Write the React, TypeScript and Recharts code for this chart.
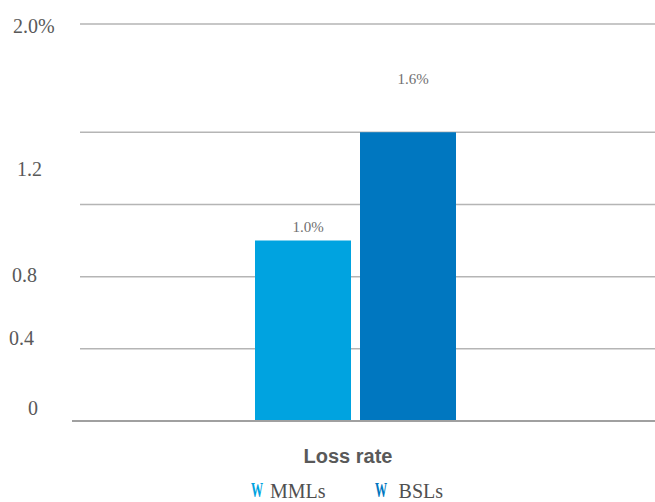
import React from "react";
import { BarChart, Bar, XAxis, YAxis, CartesianGrid, Legend, LabelList } from "recharts";

const categories = ["Loss rate"];
const mmlValues = [1.0];
const bslValues = [1.6];
const seriesNames = ["MMLs", "BSLs"];
const seriesColors = ["#00A3E0", "#0077C0"];
const yTicks = [0, 0.4, 0.8, 1.2, 1.6, 2.2];
const yTickLabels = ["0", "0.4", "0.8", "1.2", "", "2.0%"];

const SERIF = "Liberation Serif, Times New Roman, Times, serif";

// label placement tweaks (style only)
const yTickStyle: Record<string, { x: number; dy: number }> = {
  "0": { x: 28, dy: -6 },
  "0.4": { x: 9, dy: -4 },
  "0.8": { x: 12, dy: 5 },
  "1.2": { x: 17, dy: -28 },
  "": { x: 0, dy: 0 },
  "2.0%": { x: 13, dy: 9 },
};

const data = categories.map((c, i) => ({
  category: c,
  MMLs: mmlValues[i],
  BSLs: bslValues[i],
}));

const YTick = (props: any) => {
  const idx = yTicks.indexOf(props.payload.value);
  const label = idx >= 0 ? yTickLabels[idx] : "";
  if (!label) return null;
  const st = yTickStyle[label];
  return (
    <text x={st.x} y={props.y + st.dy} fill="#595959" style={{ fontFamily: SERIF }} fontSize={20} textAnchor="start">
      {label}
    </text>
  );
};

const XTick = (props: any) => (
  <text x={props.x - 7} y={props.y + 34} fill="#595959" style={{ fontFamily: "Liberation Sans, Arial, sans-serif" }} fontWeight="bold" fontSize={20} textAnchor="middle">
    {props.payload.value}
  </text>
);

const makeLabel = (offset: number) => (p: any) => (
  <text x={p.x + p.width / 2 + 5} y={p.y - offset} fill="#707070" style={{ fontFamily: SERIF }} fontSize={15} textAnchor="middle">
    {Number(p.value).toFixed(1)}%
  </text>
);

const GridLine = (p: any) => (
  <line key={p.key} x1={p.x1 + 8} x2={p.x2} y1={p.y1} y2={p.y2} stroke="#b5b5b5" strokeWidth={1.5} />
);

const renderLegend = () => (
  <div style={{ height: 41, display: "flex", alignItems: "flex-end", paddingLeft: 251, boxSizing: "border-box", fontFamily: SERIF, fontSize: 20, color: "#505050", lineHeight: "22px" }}>
    {seriesNames.map((n, i) => (
      <div key={n} style={{ display: "flex", alignItems: "flex-end", marginLeft: i === 0 ? 0 : 49 }}>
        <svg width={13} height={22} style={{ marginRight: i === 0 ? 6 : 11, overflow: "visible" }}>
          <text x={0} y={17} fill={seriesColors[i]} style={{ fontFamily: SERIF }} fontWeight="bold" fontSize={22} transform="scale(0.55,1)">W</text>
        </svg>
        <span>{n}</span>
      </div>
    ))}
  </div>
);

export default function App() {
  return (
    <div style={{ position: "absolute", left: 0, top: 0 }}>
      <BarChart width={655} height={502} data={data} margin={{ top: 24, right: 0, left: 0, bottom: 0 }} barGap={9}>
        <CartesianGrid vertical={false} horizontal={GridLine as any} />
        <XAxis dataKey="category" height={40} tickLine={false} axisLine={{ stroke: "#a0a0a0", strokeWidth: 2 }} tick={<XTick />} padding={{ left: 0, right: 17 }} />
        <YAxis width={72} domain={[0, 2.2]} ticks={yTicks} interval={0} axisLine={false} tickLine={false} tick={<YTick />} />
        <Legend verticalAlign="bottom" content={renderLegend} />
        <Bar dataKey="MMLs" fill={seriesColors[0]} barSize={96} isAnimationActive={false}>
          <LabelList dataKey="MMLs" content={makeLabel(9)} />
        </Bar>
        <Bar dataKey="BSLs" fill={seriesColors[1]} barSize={96} isAnimationActive={false}>
          <LabelList dataKey="BSLs" content={makeLabel(48)} />
        </Bar>
      </BarChart>
    </div>
  );
}
